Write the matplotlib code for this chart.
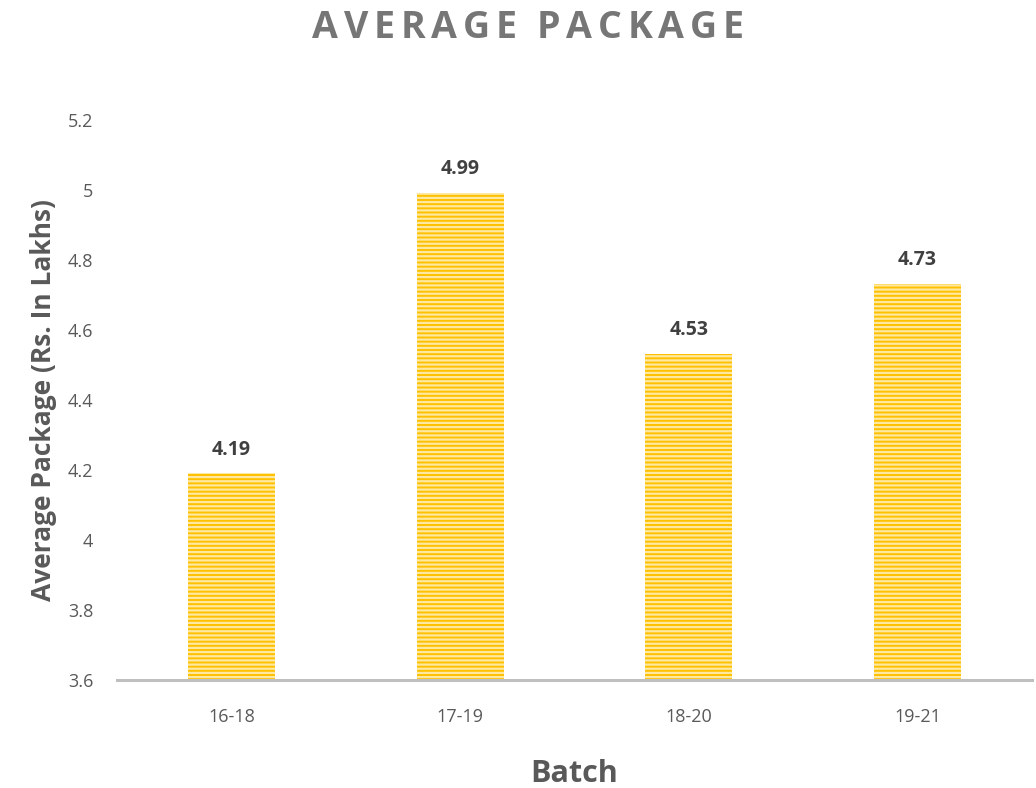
import matplotlib
matplotlib.use("Agg")
import matplotlib.pyplot as plt

batches = ["16-18", "17-19", "18-20", "19-21"]
avg_package = [4.19, 4.99, 4.53, 4.73]
yticks = [3.6, 3.8, 4.0, 4.2, 4.4, 4.6, 4.8, 5.0, 5.2]
ytick_labels = ["3.6", "3.8", "4", "4.2", "4.4", "4.6", "4.8", "5", "5.2"]
title = "AVERAGE PACKAGE"

plt.rcParams['font.family'] = ['Open Sans', 'DejaVu Sans']
plt.rcParams['hatch.linewidth'] = 1.6

fig = plt.figure(figsize=(10.36, 7.88), dpi=100)
ax = fig.add_axes([0.113, 0.137, 0.883, 0.711])

x = range(len(batches))
ax.bar(x, avg_package, width=0.38, bottom=0, color='#FFC000',
       edgecolor='#FFE9A0', linewidth=0, hatch='----', zorder=2)

for xi, v in zip(x, avg_package):
    ax.annotate(f"{v:.2f}", (xi, v), xytext=(0, 10), textcoords='offset points',
                ha='center', va='bottom', fontsize=14, fontweight='bold', color='#404040')

ax.set_ylim(3.6, 5.2)
ax.set_xlim(-0.5, 3.5)
ax.set_yticks(yticks)
ax.set_yticklabels(ytick_labels)
ax.set_xticks(list(x))
ax.set_xticklabels(batches)
ax.tick_params(axis='both', length=0, labelsize=13, labelcolor='#595959')
ax.tick_params(axis='y', pad=17)
ax.tick_params(axis='x', pad=20)

for s in ['top', 'right', 'left']:
    ax.spines[s].set_visible(False)
ax.spines['bottom'].set_color('#BFBFBF')
ax.spines['bottom'].set_linewidth(2.2)
ax.spines['bottom'].set_zorder(3)

ax.set_ylabel("Average Package (Rs. In Lakhs)", fontsize=19, fontweight='bold', color='#595959')
ax.yaxis.set_label_coords(-0.066, 0.5)
ax.set_xlabel("Batch", fontsize=22, fontweight='bold', color='#595959', labelpad=24)

# Title with letter spacing
fig.canvas.draw()
renderer = fig.canvas.get_renderer()
fs = 27
spacing = 5.8  # px
widths = []
for ch in title:
    t = fig.text(0, 0, ch if ch != " " else "n", fontsize=fs, fontweight='bold')
    w = t.get_window_extent(renderer).width
    if ch == " ":
        w *= 0.35
    widths.append(w)
    t.remove()
total = sum(widths) + spacing * (len(title) - 1)
cx = 528
xpos = cx - total / 2
ypix = 788 * 0.965
for ch, w in zip(title, widths):
    if ch != " ":
        fig.text(xpos / 1036, ypix / 788, ch, fontsize=fs, fontweight='bold',
                 color='#767676', ha='left', va='center')
    xpos += w + spacing

fig.savefig("out.png", dpi=100)
